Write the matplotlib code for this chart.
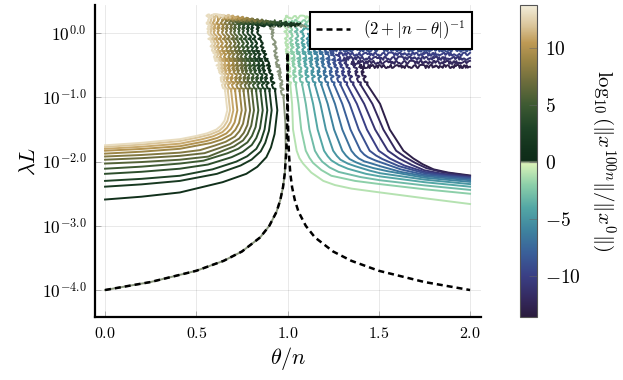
import numpy as np
import matplotlib
matplotlib.use("Agg")
import matplotlib.pyplot as plt
from matplotlib.colors import LinearSegmentedColormap, Normalize
from matplotlib.cm import ScalarMappable

plt.rcParams["mathtext.fontset"] = "cm"
plt.rcParams["font.family"] = ["DejaVu Serif"]

# contour levels, values as (theta/n, log10(lambda L))
pos_levels = [1, 2, 3, 4, 5, 6, 7, 8, 9, 10, 11, 12, 13]
pos_theta = [
    [0, 0.2, 0.41, 0.644, 0.774, 0.834, 0.884, 0.909, 0.929, 0.944, 0.932],
    [0, 0.2, 0.41, 0.613, 0.743, 0.803, 0.853, 0.878, 0.898, 0.913, 0.901],
    [0, 0.2, 0.41, 0.589, 0.719, 0.779, 0.829, 0.854, 0.874, 0.889, 0.877],
    [0, 0.2, 0.41, 0.564, 0.694, 0.754, 0.804, 0.829, 0.849, 0.864, 0.852],
    [0, 0.2, 0.41, 0.540, 0.670, 0.730, 0.780, 0.805, 0.825, 0.840, 0.828],
    [0, 0.2, 0.41, 0.566, 0.646, 0.706, 0.756, 0.781, 0.801, 0.816, 0.804],
    [0, 0.2, 0.41, 0.545, 0.625, 0.685, 0.735, 0.760, 0.780, 0.795, 0.783],
    [0, 0.2, 0.41, 0.521, 0.601, 0.661, 0.711, 0.736, 0.756, 0.771, 0.759],
    [0, 0.2, 0.41, 0.579, 0.639, 0.689, 0.714, 0.734, 0.749, 0.737],
    [0, 0.2, 0.41, 0.555, 0.615, 0.665, 0.690, 0.710, 0.725, 0.713],
    [0, 0.2, 0.41, 0.533, 0.593, 0.643, 0.668, 0.688, 0.703, 0.691],
    [0, 0.2, 0.41, 0.515, 0.575, 0.625, 0.650, 0.670, 0.685, 0.673],
    [0, 0.2, 0.41, 0.500, 0.560, 0.610, 0.635, 0.655, 0.670, 0.658],
]
pos_log = [
    [-2.59, -2.546, -2.48, -2.32, -2.19, -2.081, -1.93, -1.779, -1.57, -1.2, -0.9],
    [-2.39, -2.354, -2.30, -2.19, -2.06, -1.968, -1.84, -1.706, -1.52, -1.2, -0.9],
    [-2.30, -2.268, -2.22, -2.12, -2.00, -1.916, -1.80, -1.674, -1.50, -1.2, -0.9],
    [-2.19, -2.158, -2.11, -2.045, -1.93, -1.850, -1.74, -1.631, -1.48, -1.2, -0.9],
    [-2.11, -2.078, -2.03, -1.985, -1.87, -1.799, -1.70, -1.599, -1.46, -1.2, -0.9],
    [-2.03, -2.006, -1.97, -1.921, -1.83, -1.763, -1.67, -1.573, -1.44, -1.2, -0.9],
    [-1.97, -1.946, -1.91, -1.868, -1.79, -1.727, -1.64, -1.552, -1.43, -1.2, -0.9],
    [-1.92, -1.896, -1.86, -1.82, -1.75, -1.691, -1.61, -1.526, -1.41, -1.2, -0.9],
    [-1.875, -1.845, -1.80, -1.71, -1.655, -1.58, -1.504, -1.40, -1.2, -0.9],
    [-1.83, -1.802, -1.76, -1.68, -1.630, -1.56, -1.489, -1.39, -1.2, -0.9],
    [-1.80, -1.768, -1.72, -1.65, -1.604, -1.54, -1.473, -1.38, -1.2, -0.9],
    [-1.77, -1.734, -1.68, -1.62, -1.578, -1.52, -1.457, -1.37, -1.2, -0.9],
    [-1.745, -1.707, -1.65, -1.60, -1.558, -1.50, -1.441, -1.36, -1.2, -0.9],
]
# ragged upper part of the same levels
pos_top_theta = [
    [0.932, 0.904, 0.872, 0.849, 0.834, 1.07],
    [0.901, 0.873, 0.841, 0.818, 0.803, 1.035],
    [0.877, 0.849, 0.817, 0.794, 0.779, 1.0],
    [0.852, 0.824, 0.792, 0.769, 0.754, 0.965],
    [0.828, 0.800, 0.768, 0.745, 0.730, 0.93],
    [0.804, 0.776, 0.744, 0.721, 0.706, 0.895],
    [0.783, 0.755, 0.723, 0.700, 0.685, 0.86],
    [0.759, 0.731, 0.699, 0.676, 0.661, 0.825],
    [0.737, 0.709, 0.677, 0.654, 0.639, 0.79],
    [0.713, 0.685, 0.653, 0.630, 0.615, 0.755],
    [0.691, 0.663, 0.631, 0.608, 0.593, 0.72],
    [0.673, 0.645, 0.613, 0.590, 0.575, 0.685],
    [0.658, 0.630, 0.598, 0.575, 0.560, 0.65],
]
pos_top_log = [
    [-0.9, -0.6, -0.3, -0.1, 0.130, 0.130],
    [-0.9, -0.6, -0.3, -0.1, 0.142, 0.142],
    [-0.9, -0.6, -0.3, -0.1, 0.154, 0.154],
    [-0.9, -0.6, -0.3, -0.1, 0.166, 0.166],
    [-0.9, -0.6, -0.3, -0.1, 0.178, 0.178],
    [-0.9, -0.6, -0.3, -0.1, 0.190, 0.190],
    [-0.9, -0.6, -0.3, -0.1, 0.202, 0.202],
    [-0.9, -0.6, -0.3, -0.1, 0.214, 0.214],
    [-0.9, -0.6, -0.3, -0.1, 0.226, 0.226],
    [-0.9, -0.6, -0.3, -0.1, 0.238, 0.238],
    [-0.9, -0.6, -0.3, -0.1, 0.250, 0.250],
    [-0.9, -0.6, -0.3, -0.1, 0.262, 0.262],
    [-0.9, -0.6, -0.3, -0.1, 0.274, 0.274],
]

zero_theta = [0, 0.25, 0.5, 0.65, 0.75, 0.85, 0.9, 0.94, 0.96, 0.975, 0.985, 0.99, 0.988, 0.978]
zero_log = [-4.0, -3.875, -3.70, -3.545, -3.40, -3.18, -3.0, -2.78, -2.60, -2.40, -2.18, -1.8, -1.4, -1.0]
zero_top_theta = [0.978, 0.96, 0.94, 0.925, 0.91, 1.1]
zero_top_log = [-1.0, -0.7, -0.4, -0.1, 0.12, 0.12]

neg_levels = [-1, -2, -3, -4, -5, -6, -7, -8, -9, -10, -11, -12, -13]
neg_theta = [
    [1.015, 1.025, 1.03, 1.05, 1.065, 1.085, 1.13, 1.196, 1.26, 1.35, 1.507, 1.75, 2.0],
    [1.045, 1.06, 1.075, 1.10, 1.12, 1.14, 1.185, 1.24, 1.37, 1.507, 1.75, 2.0],
    [1.08, 1.10, 1.12, 1.15, 1.17, 1.19, 1.23, 1.28, 1.40, 1.507, 1.75, 2.0],
    [1.115, 1.14, 1.165, 1.20, 1.22, 1.24, 1.28, 1.33, 1.43, 1.507, 1.75, 2.0],
    [1.15, 1.18, 1.21, 1.25, 1.27, 1.29, 1.33, 1.37, 1.45, 1.507, 1.75, 2.0],
    [1.185, 1.22, 1.255, 1.30, 1.32, 1.34, 1.375, 1.41, 1.47, 1.55, 1.75, 2.0],
    [1.22, 1.26, 1.30, 1.35, 1.37, 1.39, 1.42, 1.45, 1.507, 1.62, 1.75, 2.0],
    [1.255, 1.30, 1.345, 1.40, 1.42, 1.44, 1.48, 1.53, 1.62, 1.75, 2.0],
    [1.29, 1.34, 1.39, 1.45, 1.485, 1.52, 1.61, 1.75, 1.87, 2.0],
    [1.325, 1.38, 1.435, 1.50, 1.56, 1.64, 1.75, 1.87, 2.0],
    [1.36, 1.42, 1.48, 1.55, 1.61, 1.68, 1.75, 1.85, 2.0],
    [1.40, 1.465, 1.525, 1.595, 1.645, 1.70, 1.76, 1.85, 2.0],
    [1.437, 1.507, 1.56, 1.635, 1.689, 1.74, 1.80, 1.88, 2.0],
]
neg_log = [
    [-0.8, -1.1, -1.5, -1.83, -1.945, -2.03, -2.17, -2.30, -2.365, -2.42, -2.48, -2.57, -2.66],
    [-0.8, -1.1, -1.5, -1.83, -1.94, -2.02, -2.13, -2.22, -2.30, -2.35, -2.43, -2.50],
    [-0.8, -1.1, -1.5, -1.83, -1.925, -2.00, -2.09, -2.16, -2.24, -2.29, -2.37, -2.44],
    [-0.8, -1.1, -1.5, -1.83, -1.915, -1.98, -2.05, -2.11, -2.19, -2.23, -2.32, -2.39],
    [-0.8, -1.1, -1.5, -1.83, -1.91, -1.97, -2.03, -2.07, -2.14, -2.18, -2.28, -2.35],
    [-0.8, -1.1, -1.5, -1.83, -1.905, -1.96, -2.01, -2.05, -2.10, -2.15, -2.25, -2.315],
    [-0.8, -1.1, -1.5, -1.83, -1.90, -1.95, -1.995, -2.02, -2.07, -2.16, -2.225, -2.29],
    [-0.8, -1.1, -1.5, -1.83, -1.89, -1.93, -1.98, -2.03, -2.12, -2.205, -2.27],
    [-0.8, -1.1, -1.5, -1.83, -1.905, -1.96, -2.07, -2.18, -2.225, -2.255],
    [-0.8, -1.1, -1.5, -1.83, -1.95, -2.06, -2.16, -2.21, -2.245],
    [-0.8, -1.1, -1.5, -1.83, -1.95, -2.05, -2.135, -2.19, -2.235],
    [-0.8, -1.1, -1.5, -1.83, -1.93, -2.02, -2.10, -2.165, -2.225],
    [-0.8, -1.1, -1.5, -1.83, -1.95, -2.04, -2.12, -2.17, -2.215],
]
neg_top_theta = [
    [1.015, 1.005, 0.985, 2.0],
    [1.045, 1.033, 1.013, 2.0],
    [1.08, 1.065, 1.045, 2.0],
    [1.115, 1.098, 1.078, 2.0],
    [1.15, 1.13, 1.11, 2.0],
    [1.185, 1.163, 1.143, 2.0],
    [1.22, 1.195, 1.175, 2.0],
    [1.255, 1.228, 1.208, 2.0],
    [1.29, 1.26, 1.24, 2.0],
    [1.325, 1.293, 1.273, 2.0],
    [1.36, 1.325, 1.305, 2.0],
    [1.40, 1.365, 1.35, 2.0],
    [1.437, 1.397, 1.39, 2.0],
]
neg_top_log = [
    [-0.8, -0.5, 0.25, 0.25],
    [-0.8, -0.5, 0.186, 0.186],
    [-0.8, -0.5, 0.122, 0.122],
    [-0.8, -0.5, 0.058, 0.058],
    [-0.8, -0.5, -0.006, -0.006],
    [-0.8, -0.5, -0.07, -0.07],
    [-0.8, -0.5, -0.134, -0.134],
    [-0.8, -0.5, -0.198, -0.198],
    [-0.8, -0.5, -0.262, -0.262],
    [-0.8, -0.5, -0.326, -0.326],
    [-0.8, -0.5, -0.39, -0.39],
    [-0.8, -0.5, -0.454, -0.454],
    [-0.8, -0.5, -0.518, -0.518],
]

# (2+|n-theta|)^-1 curve
dash_theta = [0.0, 0.25, 0.5, 0.65, 0.75, 0.85, 0.9, 0.94, 0.96, 0.975, 0.985, 0.992, 0.996, 0.998, 0.999,
              1.0, 1.001, 1.002, 1.004, 1.008, 1.015, 1.025, 1.04, 1.06, 1.1, 1.15, 1.25, 1.35, 1.5, 1.75, 2.0]
dash_log = [-4.0, -3.875, -3.70, -3.545, -3.40, -3.18, -3.0, -2.78, -2.60, -2.40, -2.18, -1.90, -1.60, -1.30, -1.0,
            -0.30, -1.0, -1.30, -1.60, -1.90, -2.18, -2.40, -2.60, -2.78, -3.0, -3.18, -3.40, -3.545, -3.70, -3.875, -4.0]

# colorbar
cbar_min, cbar_max = -13.6, 13.8
cmap_stops = [-13.6, -12.0, -10.0, -8.0, -6.0, -4.0, -2.0, -0.15, 0.0, 0.15, 1.0, 3.0, 5.0, 7.0, 9.0, 10.5, 12.0, 13.8]
cmap_colors = ["#2a1b3d", "#34295e", "#3a3f85", "#3a5f99", "#3e839f", "#53a7a5", "#8ccfa9", "#d9f2b8",
               "#8e9a80", "#0e2b18", "#11301b", "#1e4226", "#3d5a32", "#6b6c3c", "#9b8545", "#bf9a55",
               "#dac59a", "#f3eedb"]
cbar_ticks = [-10, -5, 0, 5, 10]

x_ticks = [0.0, 0.5, 1.0, 1.5, 2.0]
y_ticks = [1e-4, 1e-3, 1e-2, 1e-1, 1e0]
y_tick_labels = [r"$10^{-4.0}$", r"$10^{-3.0}$", r"$10^{-2.0}$", r"$10^{-1.0}$", r"$10^{0.0}$"]


def make_cmap():
    pos = [(v - cbar_min) / (cbar_max - cbar_min) for v in cmap_stops]
    return LinearSegmentedColormap.from_list("topo_like", list(zip(pos, cmap_colors)), N=1024)


def draw_level(ax, theta, logl, color, noisy=False):
    line, = ax.plot(theta, np.power(10.0, logl), color=color, lw=1.4, solid_joinstyle="round")
    if noisy:
        line.set_sketch_params(scale=1.6, length=2.0, randomness=12.0)
    return line


def plot_chart():
    fig = plt.figure(figsize=(6.23, 3.8), dpi=100)
    ax = fig.add_axes([95 / 623, 63 / 380, 386 / 623, 312 / 380])
    cax = fig.add_axes([520 / 623, 63 / 380, 17 / 623, 312 / 380])

    cmap = make_cmap()
    norm = Normalize(cbar_min, cbar_max)

    # lowest level first
    for i in reversed(range(len(neg_levels))):
        c = cmap(norm(neg_levels[i]))
        draw_level(ax, neg_theta[i], neg_log[i], c)
        draw_level(ax, neg_top_theta[i], neg_top_log[i], c, noisy=True)

    c0 = cmap(norm(0))
    draw_level(ax, zero_theta, zero_log, c0)
    draw_level(ax, zero_top_theta, zero_top_log, c0, noisy=True)

    for i in range(len(pos_levels)):
        c = cmap(norm(pos_levels[i]))
        draw_level(ax, pos_theta[i], pos_log[i], c)
        draw_level(ax, pos_top_theta[i], pos_top_log[i], c, noisy=True)

    ax.plot(dash_theta, np.power(10.0, dash_log), color="black", lw=1.8, ls=(0, (2.4, 1.6)),
            label=r"$(2+|n-\theta|)^{-1}$", zorder=5)

    ax.set_yscale("log")
    ax.set_xlim(-0.055, 2.06)
    ax.set_ylim(10 ** -4.42, 10 ** 0.44)
    ax.set_xticks(x_ticks)
    ax.set_xticklabels([r"$%.1f$" % t for t in x_ticks])
    ax.set_yticks(y_ticks)
    ax.set_yticklabels(y_tick_labels)
    ax.yaxis.set_minor_locator(matplotlib.ticker.NullLocator())
    ax.tick_params(axis="x", direction="in", length=4, width=0.6, color=(0, 0, 0, 0.3), labelsize=11.5, pad=6)
    ax.tick_params(axis="y", direction="in", length=4, width=0.6, color=(0, 0, 0, 0.3), labelsize=12.5, pad=6)
    ax.grid(True, color="black", alpha=0.1, lw=0.6)
    for s in ["top", "right"]:
        ax.spines[s].set_visible(False)
    for s in ["left", "bottom"]:
        ax.spines[s].set_linewidth(1.6)

    ax.set_xlabel(r"$\theta/n$", fontsize=16, labelpad=2)
    ax.set_ylabel(r"$\lambda L$", fontsize=16, labelpad=2)

    leg = ax.legend(loc="upper right", bbox_to_anchor=(0.977, 0.978), borderaxespad=0,
                    fontsize=12, handlelength=2.0, fancybox=False, framealpha=1,
                    edgecolor="black", borderpad=0.4)
    leg.get_frame().set_linewidth(1.5)

    sm = ScalarMappable(norm=norm, cmap=cmap)
    cbar = fig.colorbar(sm, cax=cax, ticks=cbar_ticks)
    cbar.ax.set_yticklabels([r"$%d$" % t for t in cbar_ticks])
    cbar.ax.tick_params(direction="in", length=6, width=0.6, color=(0.4, 0.4, 0.4, 0.6), labelsize=14, pad=6)
    cbar.outline.set_linewidth(0.8)
    cbar.outline.set_edgecolor("#555555")
    cbar.set_label(r"$\log_{10}(\|x^{100n}\|/\|x^0\|)$", fontsize=15, rotation=270, labelpad=26)

    fig.savefig("out.png", dpi=100)
    return "out.png"


if __name__ == "__main__":
    plot_chart()
